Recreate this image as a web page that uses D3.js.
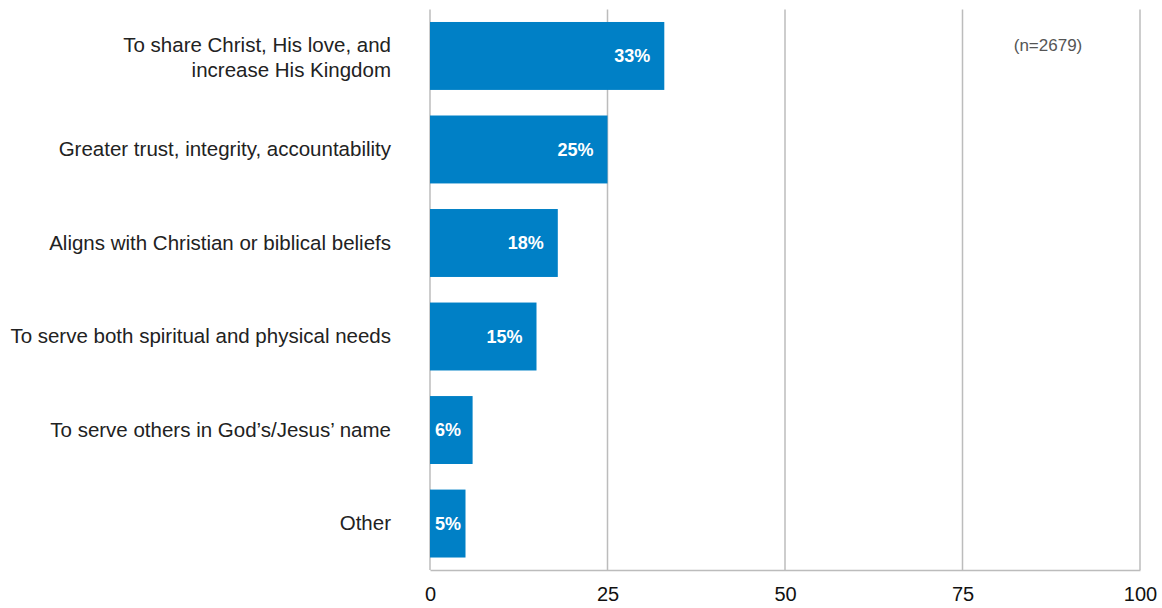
<!DOCTYPE html>
<html>
<head>
<meta charset="utf-8">
<script src="https://cdn.jsdelivr.net/npm/d3@7"></script>
<style>
  html, body { margin: 0; padding: 0; background: #fff; }
  svg { display: block; font-family: "Liberation Sans", Arial, Helvetica, sans-serif; }
</style>
</head>
<body>
<svg id="chart" width="1162" height="608"></svg>
<script>
// Survey responses (percent of respondents)
const categories = [
  ["To share Christ, His love, and", "increase His Kingdom"],
  ["Greater trust, integrity, accountability"],
  ["Aligns with Christian or biblical beliefs"],
  ["To serve both spiritual and physical needs"],
  ["To serve others in God\u2019s/Jesus\u2019 name"],
  ["Other"]
];
const values = [33, 25, 18, 15, 6, 5];
const xTicks = [0, 25, 50, 75, 100];
const sampleNote = "(n=2679)";

const svg = d3.select("#chart");
const margin = { left: 430, right: 22, top: 9.5, bottom: 38 };
const W = 1162, H = 608;

const x = d3.scaleLinear().domain([0, 100]).range([margin.left, W - margin.right]);
const y = d3.scaleBand()
  .domain(d3.range(values.length))
  .range([margin.top, H - margin.bottom])
  .paddingInner(0.2735)
  .paddingOuter(0.1335);

const gridColor = "#bcbcbc";

// vertical gridlines
svg.append("g")
  .selectAll("line")
  .data(xTicks)
  .join("line")
  .attr("x1", d => x(d)).attr("x2", d => x(d))
  .attr("y1", margin.top).attr("y2", H - margin.bottom)
  .attr("stroke", gridColor).attr("stroke-width", 1.5);

// bottom axis
const xAxis = d3.axisBottom(x).tickValues(xTicks).tickSize(0).tickPadding(17);
const gx = svg.append("g")
  .attr("transform", `translate(0,${H - margin.bottom})`)
  .call(xAxis);
gx.select(".domain").attr("stroke", gridColor).attr("stroke-width", 1.5);
gx.selectAll("text")
  .attr("font-size", 20)
  .attr("fill", "#111")
  .attr("font-family", "'Liberation Sans', Arial, sans-serif");

// bars
svg.append("g")
  .selectAll("rect")
  .data(values)
  .join("rect")
  .attr("x", x(0))
  .attr("y", (d, i) => y(i))
  .attr("width", d => x(d) - x(0))
  .attr("height", y.bandwidth())
  .attr("fill", "#0080c6");

// value labels inside bars
const vl = svg.append("g")
  .selectAll("text")
  .data(values)
  .join("text")
  .attr("y", (d, i) => y(i) + y.bandwidth() / 2)
  .attr("dy", "0.35em")
  .attr("text-anchor", "end")
  .attr("font-size", 18)
  .attr("font-weight", "bold")
  .attr("fill", "#fff")
  .text(d => d + "%");
vl.each(function(d) {
  const w = this.getComputedTextLength();
  const xr = Math.max(x(d) - 14, x(0) + 5 + w);
  d3.select(this).attr("x", xr);
});

// category labels
const lineH = 25;
const cl = svg.append("g")
  .selectAll("text")
  .data(categories)
  .join("text")
  .attr("text-anchor", "end")
  .attr("font-size", 20.5)
  .attr("fill", "#222");
cl.each(function(lines, i) {
  const cy = y(i) + y.bandwidth() / 2 + (lines.length > 1 ? 1.5 : -0.5);
  const start = cy - (lines.length - 1) * lineH / 2;
  d3.select(this).selectAll("tspan")
    .data(lines)
    .join("tspan")
    .attr("x", 391)
    .attr("y", (l, j) => start + j * lineH)
    .attr("dy", "0.35em")
    .text(l => l);
});

// sample size note
svg.append("text")
  .attr("x", 1048)
  .attr("y", 45)
  .attr("dy", "0.35em")
  .attr("text-anchor", "middle")
  .attr("font-size", 17)
  .attr("fill", "#555")
  .text(sampleNote);
</script>
</body>
</html>
